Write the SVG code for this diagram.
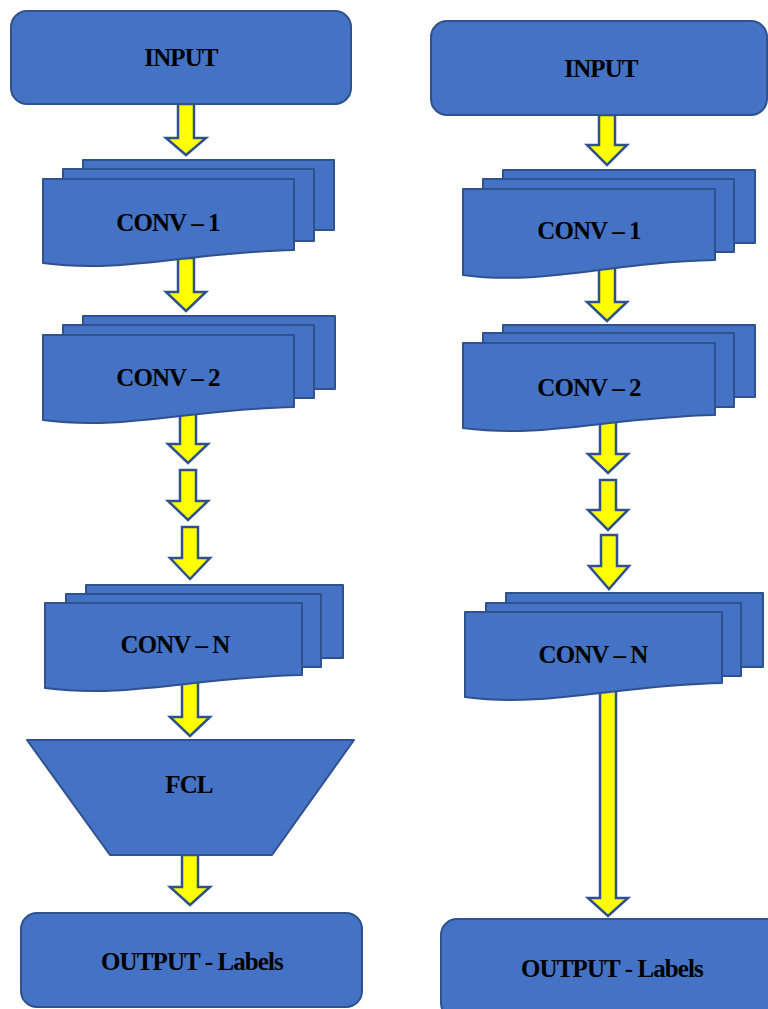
<svg xmlns="http://www.w3.org/2000/svg" width="768" height="1009" viewBox="0 0 768 1009">
<style>
.n{fill:#4472C4;stroke:#2F528F;stroke-width:2;stroke-linejoin:round}
.a{fill:#FFFF00;stroke:#2F528F;stroke-width:2.5;stroke-linejoin:miter}
.t{font-family:"Liberation Serif","Times New Roman",serif;font-weight:bold;font-size:25px;letter-spacing:-0.9px;fill:#000;text-anchor:middle}
</style>
<rect width="768" height="1009" fill="#fff"/>
<g id="connectors">
<path class="a" d="M178,104H194V138H206L186,155L166,138H178Z"/>
<path class="a" d="M178,258H194V292H206L186,311L166,292H178Z"/>
<path class="a" d="M180,412H196V444H208L188,463L168,444H180Z"/>
<path class="a" d="M180,470H196V501H208L188,520L168,501H180Z"/>
<path class="a" d="M182,527H198V558H210L190,579L170,558H182Z"/>
<path class="a" d="M182,676H198V717H210L190,736L170,717H182Z"/>
<path class="a" d="M182,855H198V887H210L190,905L170,887H182Z"/>
<path class="a" d="M599,115H615V145H627L607,165L587,145H599Z"/>
<path class="a" d="M599,262H615V302H627L607,321L587,302H599Z"/>
<path class="a" d="M600,414H616V454H628L608,473L588,454H600Z"/>
<path class="a" d="M600,480H616V510H628L608,530L588,510H600Z"/>
<path class="a" d="M601,535H617V566H629L609,589L589,566H601Z"/>
<path class="a" d="M600,683H616V898H628L608,916L588,898H600Z"/>
</g>
<g id="input-left">
<rect class="n" x="11" y="11" width="340" height="93" rx="16"/>
<text class="t" x="181" y="66">INPUT</text>
</g>
<g id="conv1-left">
<rect class="n" x="83" y="160" width="251" height="70"/>
<rect class="n" x="63" y="169" width="251" height="72"/>
<path class="n" d="M43,179H294V250C190,252 123,274 43,263Z"/>
<text class="t" x="168" y="231">CONV – 1</text>
</g>
<g id="conv2-left">
<rect class="n" x="83" y="316" width="252" height="73"/>
<rect class="n" x="63" y="325" width="251" height="73"/>
<path class="n" d="M43,335H294V407C190,409 123,431 43,420Z"/>
<text class="t" x="168" y="386">CONV – 2</text>
</g>
<g id="convn-left">
<rect class="n" x="86" y="585" width="257" height="73"/>
<rect class="n" x="66" y="594" width="255" height="73"/>
<path class="n" d="M45,603H302V675C196,677 127,699 45,688Z"/>
<text class="t" x="175" y="653">CONV – N</text>
</g>
<g id="fcl">
<path class="n" d="M27,740H354L272,855H110Z"/>
<text class="t" x="189" y="793">FCL</text>
</g>
<g id="output-left">
<rect class="n" x="21" y="913" width="341" height="94" rx="16"/>
<text class="t" x="192" y="970">OUTPUT - Labels</text>
</g>
<g id="input-right">
<rect class="n" x="431" y="21" width="336" height="94" rx="16"/>
<text class="t" x="601" y="77">INPUT</text>
</g>
<g id="conv1-right">
<rect class="n" x="503" y="170" width="252" height="73"/>
<rect class="n" x="483" y="179" width="251" height="73"/>
<path class="n" d="M463,189H715V260C611,262 543,286 463,275Z"/>
<text class="t" x="589" y="239">CONV – 1</text>
</g>
<g id="conv2-right">
<rect class="n" x="503" y="325" width="252" height="72"/>
<rect class="n" x="483" y="333" width="251" height="74"/>
<path class="n" d="M463,343H715V415C611,417 543,439 463,428Z"/>
<text class="t" x="589" y="396">CONV – 2</text>
</g>
<g id="convn-right">
<rect class="n" x="506" y="593" width="257" height="74"/>
<rect class="n" x="486" y="603" width="255" height="73"/>
<path class="n" d="M465,612H722V683C616,685 547,708 465,697Z"/>
<text class="t" x="593" y="663">CONV – N</text>
</g>
<g id="output-right">
<rect class="n" x="441" y="919" width="345" height="100" rx="16"/>
<text class="t" x="612" y="977">OUTPUT - Labels</text>
</g>
</svg>
